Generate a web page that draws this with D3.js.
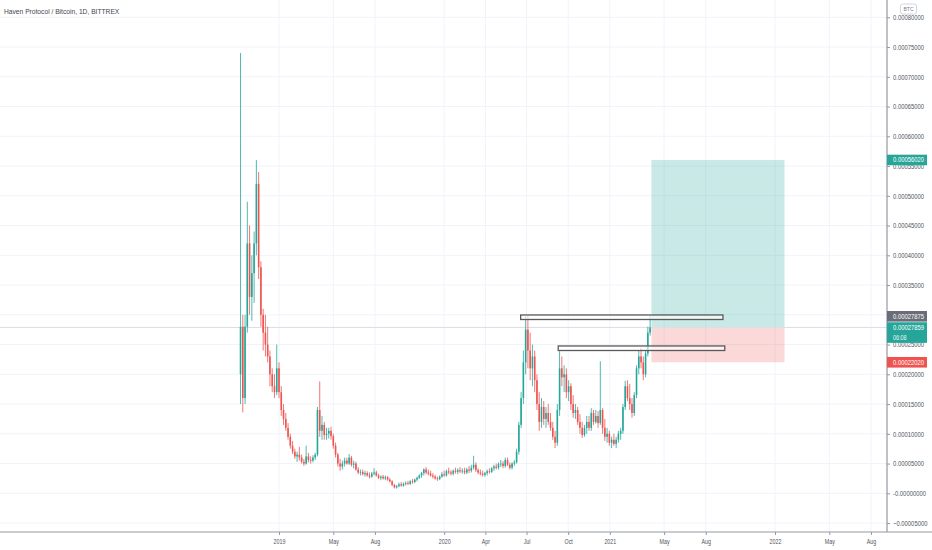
<!DOCTYPE html>
<html>
<head>
<meta charset="utf-8">
<script src="https://cdn.jsdelivr.net/npm/d3@7"></script>
<style>
  html, body { margin: 0; padding: 0; background: #ffffff; }
  svg { display: block; font-family: "Liberation Sans", Arial, sans-serif; }
</style>
</head>
<body>
<div id="chart"></div>
<script>
// prices below are in units of 0.00001 BTC, one candle per 5 days from 2018-10-08
const UNIT = 1e-5;
const firstOpen = 20;
const closes = [
  28, 16, 28, 42, 33, 37, 42, 52, 38, 30, 27, 25, 23, 20, 18, 17, 21, 17, 14, 12.5,
  11, 9.5, 8, 7, 6.2, 6.5, 6, 5.3, 5, 6.2, 5.6, 5.5, 6, 6.5, 14, 10.5, 11.5, 9.8, 10, 10.5,
  9.6, 8, 6.5, 5, 4.5, 5, 5.5, 5, 6, 4.8, 5, 4, 3.5, 3.6, 3.2, 3.4, 3, 2.8, 3.3, 3.5,
  3, 2.6, 2.8, 2.5, 2.7, 2.3, 2, 1.4, 1.0, 1.2, 1.5, 1.3, 1.6, 1.7, 1.6, 2.0, 1.9, 2.3, 2.6, 3.0,
  3.4, 4.0, 3.5, 3.3, 3.0, 2.8, 2.5, 2.4, 2.8, 3.2, 3.0, 3.7, 3.5, 3.3, 3.8, 3.6, 3.9, 3.7, 3.8, 3.5,
  4.0, 3.8, 4.3, 4.8, 3.9, 3.5, 3.3, 3.1, 3.4, 3.7, 3.6, 4.2, 4.5, 4.3, 4.9, 5.0, 4.6, 5.6, 4.8, 4.3,
  5.0, 5.2, 7.0, 11.5, 16, 22, 27.5, 24, 21, 23, 19, 15, 12, 14.5, 12.5, 13.5, 12, 11, 9.5, 8.5,
  14, 21, 19.5, 20, 17, 18, 15, 13.5, 14, 12, 11, 9.8, 11, 12, 11, 13.5, 12, 13, 11.8, 14,
  11, 9.5, 10, 8.5, 9, 8.3, 9, 10, 10.5, 14.5, 18, 16, 15, 13.5, 16.5, 21, 23, 22, 20, 23.5,
  27, 27.859
];
const highs = [
  74, 30, 30, 49, 45, 40, 44, 56, 54, 39, 31, 30, 28, 24, 21, 20, 25, 22, 18, 15,
  13.5, 11.8, 10, 8.8, 7.5, 7, 7.8, 6.5, 5.8, 8, 6.8, 6.2, 6.4, 6.8, 14.5, 18.8, 13, 12, 11, 11,
  11.2, 10, 8.5, 6.8, 5.8, 5.5, 6, 6, 6.6, 6.3, 5.5, 5.3, 4.4, 4, 4, 3.8, 3.7, 3.5, 3.6, 4.2,
  3.8, 3.3, 3, 3.1, 3, 2.9, 2.6, 2.2, 1.6, 1.4, 1.8, 1.9, 1.8, 2.0, 2.1, 2.2, 2.4, 2.5, 2.8, 3.2,
  3.6, 4.2, 4.4, 4.0, 3.8, 3.4, 3.1, 2.8, 3.0, 3.6, 3.8, 4.0, 4.3, 3.9, 4.0, 4.3, 4.2, 4.4, 4.2, 4.3,
  4.3, 4.6, 4.8, 6.3, 5.2, 4.2, 4.0, 3.8, 3.6, 4.0, 4.2, 4.4, 4.8, 5.0, 5.2, 5.6, 5.4, 6.0, 6.0, 5.2,
  5.2, 5.6, 7.5, 12, 17, 24, 29.8, 29.8, 27, 25, 24, 20, 17, 16, 15.5, 14.5, 15, 13.5, 12, 10.5,
  15, 23.9, 23, 21.5, 21, 19, 18.5, 16.5, 15, 14.5, 13.3, 12, 11.5, 13, 13, 14.3, 14, 14, 13.8, 22.2,
  14.3, 12.5, 11, 10.5, 9.5, 10, 9.5, 10.5, 11, 15, 18.9, 19, 18.4, 16, 17, 21.5, 24, 24.5, 23, 24,
  28, 29.9
];
const lows = [
  15, 13.6, 15, 27, 30, 29, 32, 40, 36, 28, 24, 23, 22, 18, 17, 16, 16.5, 16, 13, 11.5,
  10.5, 9, 7.5, 6.6, 5.8, 5.3, 5.5, 5, 4.6, 4.8, 5.2, 5, 5.2, 5.6, 6.2, 9.5, 9, 9, 9, 9.2,
  9, 7.5, 6, 4.5, 3.8, 4, 4.5, 4.8, 4.8, 4.5, 4.2, 3.8, 3.2, 3, 3, 2.8, 2.8, 2.5, 2.6, 3,
  2.8, 2.4, 2.2, 2.3, 2.2, 2.1, 1.8, 1.2, 0.8, 0.8, 1.0, 1.1, 1.1, 1.3, 1.4, 1.4, 1.6, 1.7, 2.0, 2.4,
  2.6, 3.0, 3.2, 3.0, 2.8, 2.5, 2.3, 2.1, 2.2, 2.6, 2.8, 2.8, 3.2, 3.0, 3.0, 3.3, 3.2, 3.4, 3.3, 3.2,
  3.2, 3.4, 3.5, 4.0, 3.6, 3.2, 3.0, 2.8, 2.8, 3.0, 3.3, 3.4, 3.8, 4.0, 4.0, 4.4, 4.2, 4.3, 4.6, 4.0,
  4.0, 4.6, 5.0, 6.5, 11, 15, 20, 21, 19, 18, 17, 14, 10.5, 11, 11.5, 11, 11.5, 10.5, 9, 7.6,
  8, 13, 18, 17, 16, 15.5, 14, 12.7, 12.5, 11.5, 10, 9.3, 9.5, 10, 10.5, 10.5, 11.5, 11.7, 11, 11.5,
  10, 8.8, 8.5, 8, 7.6, 8, 7.6, 8.5, 9, 10, 14, 15.5, 14, 12.7, 13, 16, 20, 21, 19, 19.5,
  23, 26.5
];

const timeTicks = ["2019-01-01", "2019-05-01", "2019-08-01", "2020-01-01", "2020-04-01", "2020-07-01",
  "2020-10-01", "2021-01-01", "2021-05-01", "2021-08-01", "2022-01-01", "2022-05-01", "2022-08-01"];
const timeLabels = ["2019", "May", "Aug", "2020", "Apr", "Jul", "Oct", "2021", "May", "Aug", "2022", "May", "Aug"];

const priceTicks = [-0.00005, 0, 0.00005, 0.0001, 0.00015, 0.0002, 0.00025, 0.0003, 0.00035,
  0.0004, 0.00045, 0.0005, 0.00055, 0.0006, 0.00065, 0.0007, 0.00075, 0.0008];

// drawings on the chart
const boxes = [
  { from: "2020-06-18", to: "2021-09-08", top: 0.0002997, bottom: 0.0002921 },
  { from: "2020-09-09", to: "2021-09-12", top: 0.0002476, bottom: 0.0002400 },
];
const position = { from: "2021-04-03", to: "2022-01-22", entry: 0.00027859, target: 0.0005602, stop: 0.0002202 };
const prevClose = 0.00027875;
const lastPrice = 0.00027859;
const countdown = "06:08";

const width = 932, height = 550;
const plotRight = 887, plotBottom = 532;
const up = "#26a69a", down = "#ef5350";
const narrow = 0.84; // the screenshot font is a condensed one

const parse = d3.utcParse("%Y-%m-%d");
const startDate = parse("2018-10-08");
const fmt = d3.format(".8f");

const candles = closes.map((c, i) => ({
  date: d3.utcDay.offset(startDate, i * 5),
  open: i === 0 ? firstOpen : closes[i - 1],
  close: c,
  high: highs[i],
  low: lows[i],
}));

const svg = d3.select("#chart").append("svg")
  .attr("width", width).attr("height", height)
  .attr("viewBox", `0 0 ${width} ${height}`);

const xScale = d3.scaleUtc()
  .domain([parse("2019-01-01"), parse("2022-01-01")])
  .range([279, 775]);
const yScale = d3.scaleLinear().domain([0, 0.0008]).range([493.3, 17.3]);

// condensed text placed at x, y
function label(g, x, y, text, size, fill, k, anchor) {
  return g.append("text")
    .attr("transform", `translate(${x}, ${y}) scale(${k}, 1)`)
    .attr("dy", "0.35em")
    .attr("text-anchor", anchor || "start")
    .attr("fill", fill)
    .attr("font-size", size + "px")
    .text(text);
}

svg.append("defs").append("clipPath").attr("id", "plot-clip")
  .append("rect").attr("x", 0).attr("y", 0).attr("width", plotRight).attr("height", plotBottom);

const plot = svg.append("g").attr("clip-path", "url(#plot-clip)");

// grid
plot.append("g").selectAll("line")
  .data(priceTicks).enter().append("line")
  .attr("x1", 0).attr("x2", plotRight)
  .attr("y1", (d) => yScale(d)).attr("y2", (d) => yScale(d))
  .attr("stroke", "#f0f3fa").attr("stroke-width", 1);
plot.append("g").selectAll("line")
  .data(timeTicks).enter().append("line")
  .attr("x1", (d) => xScale(parse(d))).attr("x2", (d) => xScale(parse(d)))
  .attr("y1", 0).attr("y2", plotBottom)
  .attr("stroke", "#f0f3fa").attr("stroke-width", 1);

// long position zones
const px1 = xScale(parse(position.from)), px2 = xScale(parse(position.to));
plot.append("rect")
  .attr("x", px1).attr("width", px2 - px1)
  .attr("y", yScale(position.target))
  .attr("height", yScale(position.entry) - yScale(position.target))
  .attr("fill", "rgba(38,166,154,0.25)");
plot.append("rect")
  .attr("x", px1).attr("width", px2 - px1)
  .attr("y", yScale(position.entry))
  .attr("height", yScale(position.stop) - yScale(position.entry))
  .attr("fill", "rgba(239,83,80,0.22)");

// previous close line
plot.append("line")
  .attr("x1", 0).attr("x2", plotRight)
  .attr("y1", yScale(prevClose)).attr("y2", yScale(prevClose))
  .attr("stroke", "#dcdee3").attr("stroke-width", 1);

// candles
const step = xScale(d3.utcDay.offset(startDate, 5)) - xScale(startDate);
const candleG = plot.append("g")
  .selectAll("g")
  .data(candles).enter().append("g")
  .attr("fill", (d) => (d.close >= d.open ? up : down))
  .attr("stroke", (d) => (d.close >= d.open ? up : down));

candleG.append("line")
  .attr("x1", (d) => xScale(d.date)).attr("x2", (d) => xScale(d.date))
  .attr("y1", (d) => yScale(d.high * UNIT)).attr("y2", (d) => yScale(d.low * UNIT))
  .attr("stroke-width", 0.8);

candleG.append("rect")
  .attr("stroke", "none")
  .attr("x", (d) => xScale(d.date) - step * 0.35)
  .attr("width", step * 0.7)
  .attr("y", (d) => yScale(Math.max(d.open, d.close) * UNIT))
  .attr("height", (d) => Math.max(0.8, Math.abs(yScale(d.open * UNIT) - yScale(d.close * UNIT))));

// rectangle drawings
plot.append("g").selectAll("rect")
  .data(boxes).enter().append("rect")
  .attr("x", (d) => xScale(parse(d.from)))
  .attr("width", (d) => xScale(parse(d.to)) - xScale(parse(d.from)))
  .attr("y", (d) => yScale(d.top))
  .attr("height", (d) => yScale(d.bottom) - yScale(d.top))
  .attr("fill", "rgba(255,255,255,0.65)")
  .attr("stroke", "#5a5a5a")
  .attr("stroke-width", 1.3);

// axes
const xAxis = d3.axisBottom(xScale)
  .tickValues(timeTicks.map(parse))
  .tickFormat((d, i) => timeLabels[i])
  .tickSize(3).tickPadding(4);
const xAxisGroup = svg.append("g")
  .attr("transform", `translate(0, ${plotBottom})`)
  .call(xAxis);
xAxisGroup.select(".domain").remove();
xAxisGroup.selectAll("line").attr("stroke", "#9598a1");
xAxisGroup.selectAll("text")
  .attr("fill", "#50535e").attr("font-size", "7px")
  .attr("y", 0).attr("dy", "0.35em")
  .attr("transform", "translate(0, 9.5) scale(0.76, 1)");

svg.append("line")
  .attr("x1", 0).attr("x2", width)
  .attr("y1", plotBottom).attr("y2", plotBottom)
  .attr("stroke", "#9598a1").attr("stroke-width", 1);

const yAxis = d3.axisRight(yScale)
  .tickValues(priceTicks)
  .tickFormat((d) => (d === 0 ? "-0.00000000" : fmt(d)))
  .tickSize(3).tickPadding(3);
const yAxisGroup = svg.append("g")
  .attr("transform", `translate(${plotRight}, 0)`)
  .call(yAxis);
yAxisGroup.select(".domain").remove();
yAxisGroup.selectAll("line").attr("stroke", "#9598a1");
yAxisGroup.selectAll("text")
  .attr("fill", "#50535e").attr("font-size", "7px")
  .attr("x", 0)
  .attr("transform", `translate(6, 0) scale(${narrow}, 1)`);

svg.append("line")
  .attr("x1", plotRight).attr("x2", plotRight)
  .attr("y1", 0).attr("y2", plotBottom)
  .attr("stroke", "#9598a1").attr("stroke-width", 1.2);

// price labels on the axis
const priceLabels = [
  { y: yScale(position.target), text: fmt(position.target), color: up },
  { y: 316.3, text: fmt(prevClose), color: "#6a6d78" },
  { y: yScale(position.stop), text: fmt(position.stop), color: down },
];
const labelLayer = svg.append("g");
priceLabels.forEach((d) => {
  labelLayer.append("rect")
    .attr("x", plotRight).attr("width", 40)
    .attr("y", d.y - 5.3).attr("height", 10.6)
    .attr("fill", d.color);
  label(labelLayer, plotRight + 6, d.y, d.text, 7, "#ffffff", narrow);
});

const lastY = yScale(lastPrice);
labelLayer.append("rect")
  .attr("x", plotRight).attr("width", 40)
  .attr("y", lastY - 5.3).attr("height", 20.6)
  .attr("fill", up);
label(labelLayer, plotRight + 6, lastY, fmt(lastPrice), 7, "#ffffff", narrow);
label(labelLayer, plotRight + 6, lastY + 10, countdown, 6.5, "#e6f5f3", narrow);

// currency badge
svg.append("rect")
  .attr("x", 900.5).attr("y", 4).attr("width", 16).attr("height", 10).attr("rx", 2)
  .attr("fill", "#ffffff").attr("stroke", "#c8cad0").attr("stroke-width", 0.8);
label(svg, 908.5, 9, "BTC", 6, "#787b86", 0.85, "middle");

// title
label(svg, 4, 11, "Haven Protocol / Bitcoin, 1D, BITTREX", 8, "#434651", 0.835);
</script>
</body>
</html>
